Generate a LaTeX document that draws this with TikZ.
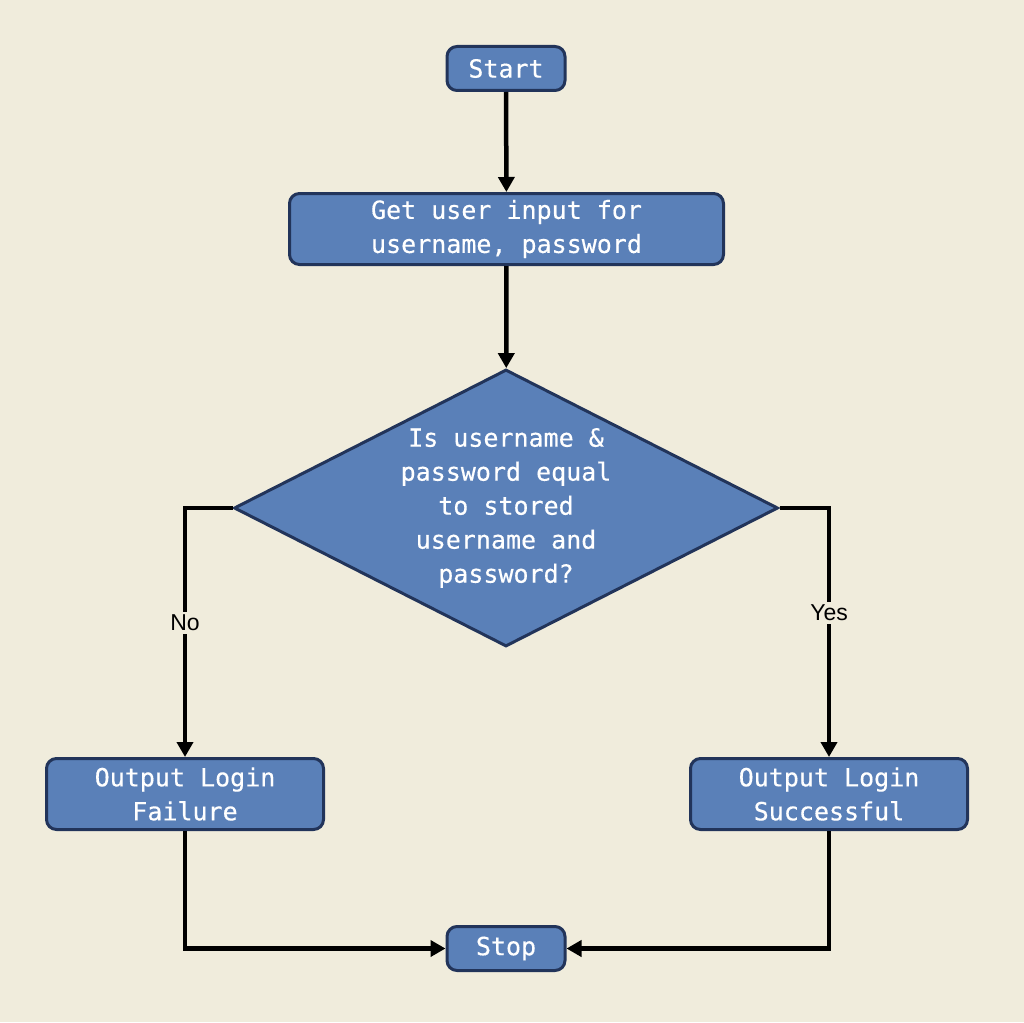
\documentclass[tikz,border=0pt]{standalone}
\usepackage{fontspec}
\newfontfamily\boxfont[FakeBold=0.4]{DejaVu Sans Mono}
\newfontfamily\labelfont{Liberation Sans}
\usetikzlibrary{shapes.geometric,arrows.meta}
\definecolor{bgc}{HTML}{F0ECDC}
\definecolor{boxfill}{HTML}{5A80B8}
\definecolor{boxline}{HTML}{22345A}
\begin{document}
\begin{tikzpicture}[x=1pt,y=-1pt,
  box/.style={draw=boxline, fill=boxfill, line width=3pt, rounded corners=10pt,
    text=white, font=\boxfont\fontsize{25}{34}\selectfont, align=center, inner sep=0pt},
  decision/.style={diamond, draw=boxline, fill=boxfill, line width=3pt,
    text=white, font=\boxfont\fontsize{25}{34}\selectfont, align=center, inner sep=0pt,
    minimum width=544pt, minimum height=277pt, shape aspect=1.95},
  conn/.style={line width=4.5pt, -{Triangle[length=15pt,width=16pt]}},
  lbl/.style={fill=bgc, font=\labelfont\fontsize{23}{27}\selectfont, inner sep=3pt}]
\fill[bgc] (0,0) rectangle (1024,1022);
\node[box, minimum width=118pt, minimum height=44pt] (start) at (506,68.5) {Start};
\node[box, minimum width=434pt, minimum height=71pt] (input) at (506.5,229) {Get user input for\\username, password};
\node[decision] (dec) at (506,508) {Is username \&\\password equal\\to stored\\username and\\password?};
\node[box, minimum width=277pt, minimum height=71pt] (fail) at (185,794) {Output Login\\Failure};
\node[box, minimum width=277pt, minimum height=71pt] (succ) at (829,794) {Output Login\\Successful};
\node[box, minimum width=118pt, minimum height=44pt] (stop) at (506,948.5) {Stop};
\draw[conn] (start) -- (input);
\draw[conn] (input) -- (dec);
\draw[conn] (dec.west) -| (fail) node[lbl, pos=0.73] (no) {No};
\draw[conn] (dec.east) -| (succ) node[lbl, pos=0.71] (yes) {Yes};
\draw[conn] (fail) |- (stop);
\draw[conn] (succ) |- (stop);
\end{tikzpicture}
\end{document}
